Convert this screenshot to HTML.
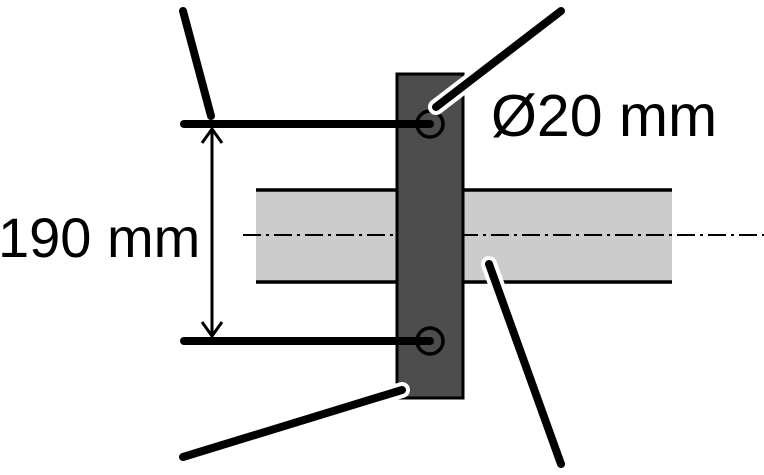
<!DOCTYPE html>
<html><head><meta charset="utf-8"><style>html,body{margin:0;padding:0;background:#fff;overflow:hidden}svg{display:block}</style></head>
<body>
<svg width="764" height="475" viewBox="0 0 764 475" xmlns="http://www.w3.org/2000/svg">
<rect x="256" y="190" width="416" height="92" fill="#cccccc"/>
<line x1="256" y1="190" x2="672" y2="190" stroke="#000" stroke-width="3.5"/>
<line x1="256" y1="282" x2="672" y2="282" stroke="#000" stroke-width="3.5"/>
<line x1="243" y1="235" x2="764" y2="235" stroke="#000" stroke-width="2" stroke-dasharray="18,5,3,5"/>
<rect x="397" y="74" width="66" height="324" fill="#4d4d4d" stroke="#000" stroke-width="3"/>
<line x1="184" y1="124" x2="430" y2="124" stroke="#000" stroke-width="8" stroke-linecap="round"/>
<line x1="184" y1="341" x2="430" y2="341" stroke="#000" stroke-width="8" stroke-linecap="round"/>
<circle cx="430" cy="124" r="13" fill="none" stroke="#000" stroke-width="3.5"/>
<circle cx="430" cy="341" r="13" fill="none" stroke="#000" stroke-width="3.5"/>
<line x1="212" y1="129" x2="212" y2="336" stroke="#000" stroke-width="3"/>
<polyline points="202,143 212,129 222,143" fill="none" stroke="#000" stroke-width="3"/>
<polyline points="202,322 212,336 222,322" fill="none" stroke="#000" stroke-width="3"/>
<line x1="183" y1="11" x2="211" y2="116" stroke="#000" stroke-width="8" stroke-linecap="round"/>
<g stroke-linecap="round">
<line x1="561" y1="11" x2="436" y2="107" stroke="#fff" stroke-width="16"/>
<line x1="561" y1="11" x2="436" y2="107" stroke="#000" stroke-width="8"/>
<line x1="183" y1="457" x2="402" y2="390" stroke="#fff" stroke-width="16"/>
<line x1="183" y1="457" x2="402" y2="390" stroke="#000" stroke-width="8"/>
<line x1="489" y1="264" x2="561" y2="464" stroke="#fff" stroke-width="16"/>
<line x1="489" y1="264" x2="561" y2="464" stroke="#000" stroke-width="8"/>
</g>
<text x="491" y="136" font-family="Liberation Sans, sans-serif" font-size="59" fill="#000">Ø20 mm</text>
<text x="-2" y="257" font-family="Liberation Sans, sans-serif" font-size="56" fill="#000">190 mm</text>
</svg>
</body></html>
